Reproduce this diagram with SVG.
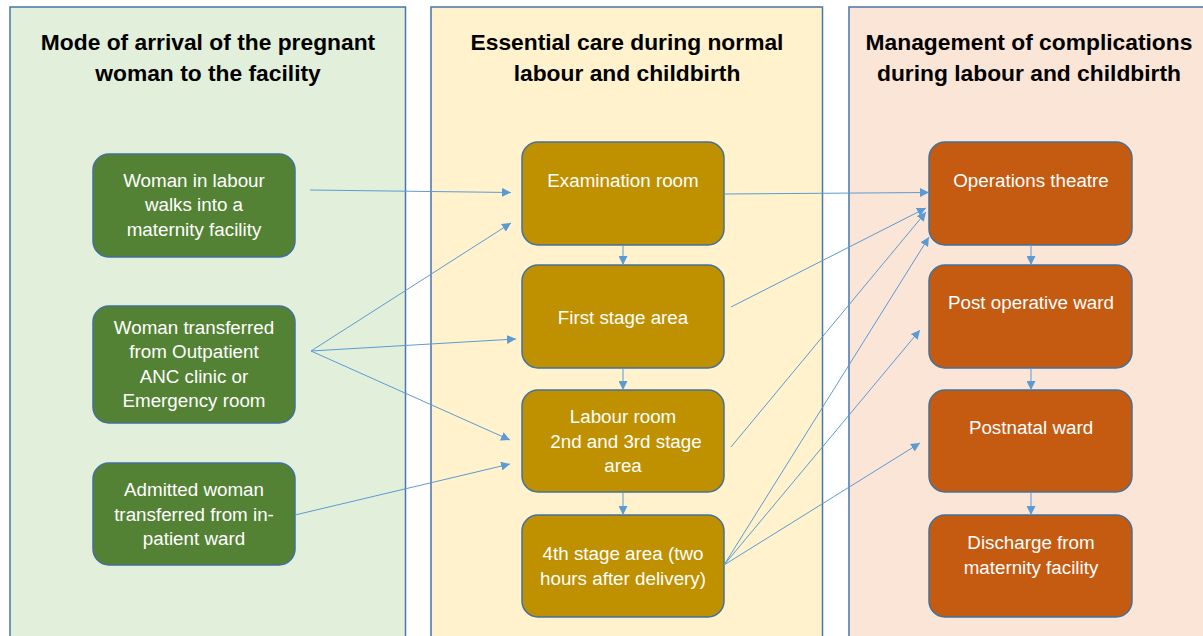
<svg xmlns="http://www.w3.org/2000/svg" width="1203" height="636" viewBox="0 0 1203 636">
<style>
.panel{stroke:#4A76A8;stroke-width:1.5}
.title{font-family:"Liberation Sans",Arial,sans-serif;font-weight:bold;font-size:22.8px;fill:#000;text-anchor:middle}
.node rect{stroke:#41719C;stroke-width:1.5}
.node text{font-family:"Liberation Sans",Arial,sans-serif;font-size:18.8px;fill:#fff;text-anchor:middle}
.g rect{fill:#548235}
.y rect{fill:#BF9000}
.o rect{fill:#C55A11}
#connectors line{stroke:#5B9BD5;stroke-width:1;fill:none;marker-end:url(#ah)}
</style>
<defs>
<marker id="ah" viewBox="0 0 10 10" refX="10" refY="5" markerWidth="9" markerHeight="9" markerUnits="userSpaceOnUse" orient="auto">
<path d="M0,0 L10,5 L0,10 z" fill="#5B9BD5"/>
</marker>
</defs>
<rect width="1203" height="636" fill="#fff"/>
<g id="panel-arrival">
<rect class="panel" x="10" y="7" width="395.5" height="640" fill="#E2EFDA"/>
<text class="title" x="208" y="50">Mode of arrival of the pregnant</text>
<text class="title" x="208" y="81">woman to the facility</text>
</g>
<g id="panel-essential">
<rect class="panel" x="431" y="7" width="391.5" height="640" fill="#FFF2CC"/>
<text class="title" x="627" y="50">Essential care during normal</text>
<text class="title" x="627" y="81">labour and childbirth</text>
</g>
<g id="panel-complications">
<rect class="panel" x="849" y="7" width="370" height="640" fill="#FBE5D6"/>
<text class="title" x="1029" y="50">Management of complications</text>
<text class="title" x="1029" y="81">during labour and childbirth</text>
</g>

<g id="n-walks" class="node g">
<rect x="93" y="154" width="202" height="103" rx="16"/>
<text x="194" y="187">Woman in labour</text>
<text x="194" y="211">walks into a</text>
<text x="194" y="236">maternity facility</text>
</g>
<g id="n-transferred" class="node g">
<rect x="93" y="306" width="202" height="117" rx="16"/>
<text x="194" y="334">Woman transferred</text>
<text x="194" y="358">from Outpatient</text>
<text x="194" y="383">ANC clinic or</text>
<text x="194" y="407">Emergency room</text>
</g>
<g id="n-admitted" class="node g">
<rect x="93" y="463" width="202" height="102" rx="16"/>
<text x="194" y="496">Admitted woman</text>
<text x="194" y="521">transferred from in-</text>
<text x="194" y="545">patient ward</text>
</g>

<g id="n-exam" class="node y">
<rect x="522" y="142" width="202" height="103" rx="16"/>
<text x="623" y="187">Examination room</text>
</g>
<g id="n-first" class="node y">
<rect x="522" y="265" width="202" height="103" rx="16"/>
<text x="623" y="324">First stage area</text>
</g>
<g id="n-labour" class="node y">
<rect x="522" y="390" width="202" height="102" rx="16"/>
<text x="623" y="423">Labour room</text>
<text x="626" y="448">2nd and 3rd stage</text>
<text x="623" y="472">area</text>
</g>
<g id="n-fourth" class="node y">
<rect x="522" y="515" width="202" height="102" rx="16"/>
<text x="623" y="560">4th stage area (two</text>
<text x="623" y="585">hours after delivery)</text>
</g>

<g id="n-ot" class="node o">
<rect x="929" y="142" width="203" height="103" rx="16"/>
<text x="1031" y="187">Operations theatre</text>
</g>
<g id="n-postop" class="node o">
<rect x="929" y="265" width="203" height="103" rx="16"/>
<text x="1031" y="309">Post operative ward</text>
</g>
<g id="n-postnatal" class="node o">
<rect x="929" y="390" width="203" height="102" rx="16"/>
<text x="1031" y="434">Postnatal ward</text>
</g>
<g id="n-discharge" class="node o">
<rect x="929" y="515" width="203" height="102" rx="16"/>
<text x="1031" y="549">Discharge from</text>
<text x="1031" y="574">maternity facility</text>
</g>

<g id="connectors">
<line x1="310" y1="190" x2="511" y2="192.5"/>
<line x1="311" y1="351" x2="511" y2="223"/>
<line x1="311" y1="351" x2="516" y2="339"/>
<line x1="311" y1="351" x2="510" y2="440"/>
<line x1="295" y1="515" x2="510" y2="464"/>
<line x1="623" y1="245" x2="623" y2="265"/>
<line x1="623" y1="368" x2="623" y2="390"/>
<line x1="623" y1="492" x2="623" y2="515"/>
<line x1="724" y1="194" x2="929" y2="192.5"/>
<line x1="731" y1="307" x2="926" y2="208"/>
<line x1="731" y1="447" x2="926" y2="212"/>
<line x1="724" y1="565" x2="929" y2="237"/>
<line x1="724" y1="565" x2="920" y2="330"/>
<line x1="724" y1="565" x2="920" y2="443"/>
<line x1="1031" y1="245" x2="1031" y2="265"/>
<line x1="1031" y1="368" x2="1031" y2="390"/>
<line x1="1031" y1="492" x2="1031" y2="515"/>
</g>
</svg>
